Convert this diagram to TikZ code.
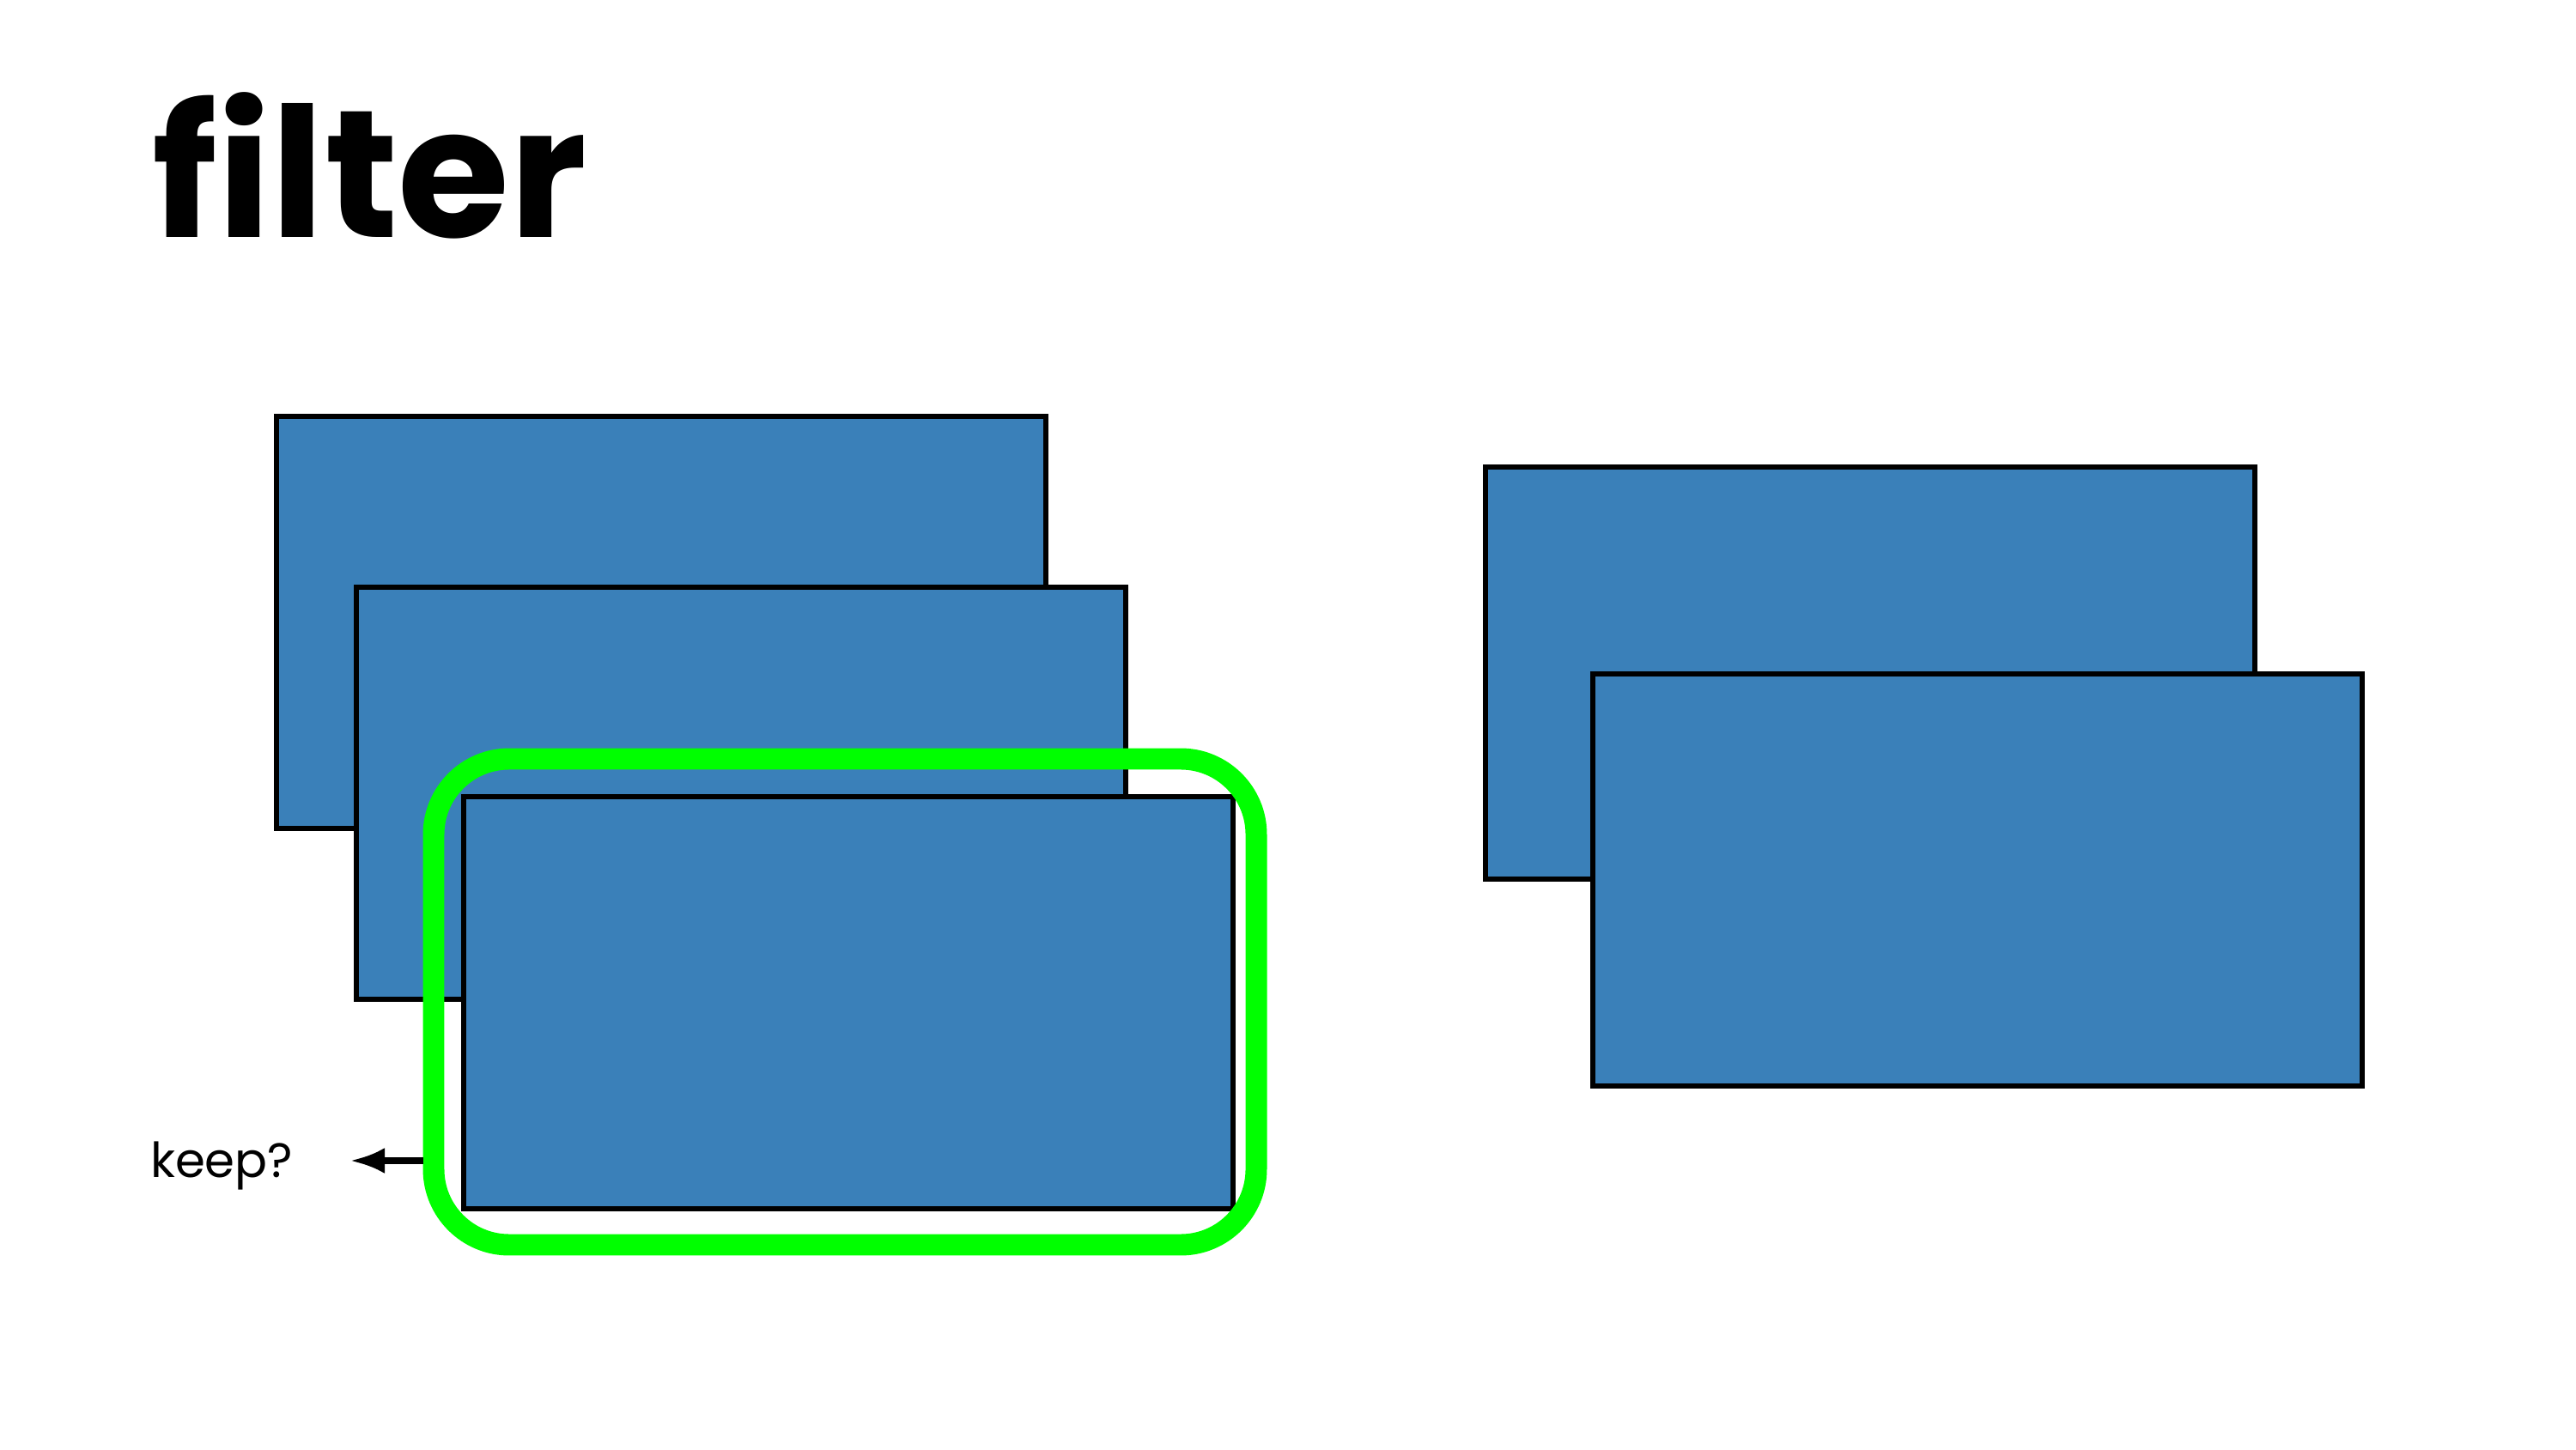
\documentclass[tikz,border=0pt]{standalone}
\usepackage{fontspec}
\setmainfont{Poppins}
\usetikzlibrary{arrows.meta}
\definecolor{frameblue}{RGB}{58,128,185}
\definecolor{pickgreen}{RGB}{0,255,0}
\begin{document}
\begin{tikzpicture}

        \useasboundingbox (0,0) rectangle (30,16.88);

        \node[anchor=base west,inner sep=0,font=\bfseries\fontsize{60}{60}\selectfont] (title) at (1.77,14.11) {filter};

        \begin{scope}[every node/.style={rectangle,draw,line width=1.7pt,fill=frameblue,
            minimum width=8.96cm,minimum height=4.80cm,inner sep=0}]
          \node (in1)  at (7.70,9.63) {};
          \node (in2)  at (8.63,7.64) {};
          \node (in3)  at (9.88,5.20) {};
          \node (out1) at (21.78,9.04) {};
          \node (out2) at (23.03,6.63) {};
        \end{scope}

        \node[draw=pickgreen,line width=7.1pt,rounded corners=0.88cm,
          minimum width=9.58cm,minimum height=5.66cm] (sel) at (9.84,5.21) {};

        \coordinate (tip) at (4.08,3.36);
        \node[anchor=base east,inner sep=0,xshift=-0.66cm,yshift=-0.19cm,font=\fontsize{16}{16}\selectfont] (keep) at (tip) {keep?};

        \begin{scope}[every edge/.style={draw,line width=2pt,-{Latex[length=0.4cm,width=0.3cm]}}]
          \path (sel.west |- tip) edge (tip);
        \end{scope}

      \end{tikzpicture}
\end{document}
